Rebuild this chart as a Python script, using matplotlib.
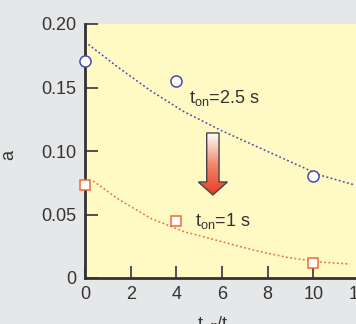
import numpy as np
import matplotlib
matplotlib.use("Agg")
import matplotlib.pyplot as plt
from matplotlib.patches import Polygon
from matplotlib.colors import LinearSegmentedColormap

plt.rcParams['font.family'] = ['Liberation Sans', 'DejaVu Sans']
plt.rcParams['mathtext.fontset'] = 'custom'
plt.rcParams['mathtext.rm'] = 'Liberation Sans'
plt.rcParams['mathtext.it'] = 'Liberation Sans'

# data
x_pts = [0, 4, 10]
a_long = [0.171, 0.155, 0.080]     # t_on = 2.5 s
a_short = [0.073, 0.045, 0.012]    # t_on = 1 s

fit_long_x = [0, 1.41, 2.87, 4.33, 5.96, 7.37, 8.83, 10.28, 11.82]
fit_long_y = [0.186, 0.1664, 0.1475, 0.131, 0.1162, 0.1047, 0.0929, 0.0811, 0.0732]
fit_short_x = [0.36, 1.41, 2.87, 4.33, 6.0, 7.37, 8.83, 10.28, 11.6]
fit_short_y = [0.0764, 0.0627, 0.047, 0.0365, 0.0286, 0.022, 0.0163, 0.0126, 0.011]

xticks = [0, 2, 4, 6, 8, 10, 12]
yticks = [0, 0.05, 0.10, 0.15, 0.20]
ytick_labels = ['0', '0.05', '0.10', '0.15', '0.20']

W, H = 356, 324
fig = plt.figure(figsize=(W/100, H/100), dpi=100)
fig.patch.set_facecolor('#e6e7e9')
ax = fig.add_axes([85/W, (H-278)/H, (359-85)/W, 254/H])
ax.set_facecolor('#fff9c4')

blue = '#4848b0'
red = '#ee6a3c'
dark = '#333333'

ax.plot(fit_long_x, fit_long_y, linestyle=(0, (1.2, 1.6)), color=blue, lw=1.1, zorder=2)
ax.plot(fit_short_x, fit_short_y, linestyle=(0, (1.2, 1.6)), color=red, lw=1.1, zorder=2)
ax.plot(x_pts, a_long, linestyle='none', marker='o', ms=8, mfc='white', mec=blue, mew=1.1,
        clip_on=False, zorder=5)
ax.plot(x_pts, a_short, linestyle='none', marker='s', ms=7.5, mfc='white', mec=red, mew=1.1,
        clip_on=False, zorder=5)

ax.set_xlim(0, 12)
ax.set_ylim(0, 0.2)
ax.set_xticks(xticks)
ax.set_xticklabels([str(t) for t in xticks])
ax.set_yticks(yticks)
ax.set_yticklabels(ytick_labels)
for s in ['top', 'right']:
    ax.spines[s].set_visible(False)
for s in ['left', 'bottom']:
    ax.spines[s].set_color(dark)
    ax.spines[s].set_linewidth(2)
ax.tick_params(direction='in', length=9, width=1.2, color=dark, labelsize=13,
               labelcolor=dark, pad=6)

ax.set_ylabel('a', fontsize=13, color=dark)
ax.yaxis.set_label_coords(-(85-17)/(359-85), (278-155)/254)
ax.set_xlabel(r'$\mathregular{t_{off}/t_{on}}$', fontsize=13, color=dark, va='top')
ax.xaxis.set_label_coords((220-85)/(359-85), -(314-278)/254)

ax.text(4.55, 0.1417, r'$\mathregular{t_{on}}$=2.5 s', fontsize=13, color=dark,
        ha='left', va='center')
ax.text(4.8, 0.0449, r'$\mathregular{t_{on}}$=1 s', fontsize=13, color=dark,
        ha='left', va='center')

# gradient arrow
xc = 5.6
sw = 0.27
hw = 0.635
ytop, ybase, ytip = 0.1142, 0.0756, 0.0654
verts = [(xc - sw, ytop), (xc + sw, ytop), (xc + sw, ybase), (xc + hw, ybase),
         (xc, ytip), (xc - hw, ybase), (xc - sw, ybase)]
poly = Polygon(verts, closed=True, facecolor='none', edgecolor='#444444', lw=1.0, zorder=4)
ax.add_patch(poly)
cmap = LinearSegmentedColormap.from_list('g', ['#ffffff', '#f08870', '#e83a22'])
grad = np.linspace(0, 1, 256).reshape(-1, 1)
im = ax.imshow(grad, cmap=cmap, aspect='auto', extent=(xc - hw, xc + hw, ytip, ytop),
               origin='upper', zorder=3)
clip = Polygon(verts, closed=True, transform=ax.transData)
im.set_clip_path(clip)
ax.set_xlim(0, 12)
ax.set_ylim(0, 0.2)

fig.savefig('out.png', dpi=100, facecolor=fig.get_facecolor())
